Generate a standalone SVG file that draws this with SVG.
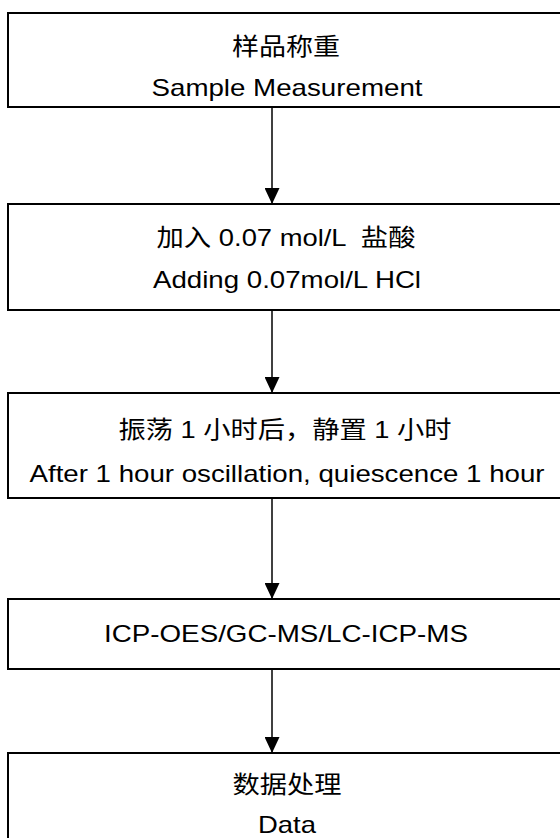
<svg xmlns="http://www.w3.org/2000/svg" width="560" height="838" viewBox="0 0 560 838">
  <defs>
    <style>
      .box { fill: #ffffff; stroke: #000000; stroke-width: 2; }
      .t { font-family: "Liberation Sans", "Noto Sans CJK SC", sans-serif; font-size: 24px; fill: #000000; text-anchor: middle; }
      .conn { stroke: #000000; stroke-width: 1.5; fill: none; marker-end: url(#arrow); }
    </style>
    <marker id="arrow" viewBox="0 0 16 15" refX="16" refY="7.5" markerWidth="16" markerHeight="15" markerUnits="userSpaceOnUse" orient="auto">
      <path d="M0,0 L16,7.5 L0,15 Z" fill="#000000"/>
    </marker>
  </defs>
  <rect width="560" height="838" fill="#ffffff"/>
  <g id="connectors">
    <line class="conn" x1="272" y1="107" x2="272" y2="204"/>
    <line class="conn" x1="272" y1="310" x2="272" y2="393"/>
    <line class="conn" x1="272" y1="498" x2="272" y2="599"/>
    <line class="conn" x1="272" y1="669" x2="272" y2="753"/>
  </g>
  <g id="node1">
    <rect class="box" x="8" y="13" width="570" height="94"/>
    <text class="t" x="286" y="55" textLength="108" lengthAdjust="spacingAndGlyphs">样品称重</text>
    <text class="t" x="287" y="96" textLength="271" lengthAdjust="spacingAndGlyphs">Sample Measurement</text>
  </g>
  <g id="node2">
    <rect class="box" x="8" y="204" width="570" height="106"/>
    <text class="t" x="286" y="246" textLength="259" lengthAdjust="spacingAndGlyphs" xml:space="preserve">加入 0.07 mol/L  盐酸</text>
    <text class="t" x="287" y="288" textLength="268" lengthAdjust="spacingAndGlyphs">Adding 0.07mol/L HCl</text>
  </g>
  <g id="node3">
    <rect class="box" x="8" y="393" width="570" height="105"/>
    <text class="t" x="285" y="438" textLength="333" lengthAdjust="spacingAndGlyphs">振荡 1 小时后，静置 1 小时</text>
    <text class="t" x="287" y="482" textLength="515" lengthAdjust="spacingAndGlyphs">After 1 hour oscillation, quiescence 1 hour</text>
  </g>
  <g id="node4">
    <rect class="box" x="8" y="599" width="570" height="70"/>
    <text class="t" x="286" y="642" textLength="364" lengthAdjust="spacingAndGlyphs">ICP-OES/GC-MS/LC-ICP-MS</text>
  </g>
  <g id="node5">
    <rect class="box" x="8" y="753" width="570" height="120"/>
    <text class="t" x="287" y="793" textLength="109" lengthAdjust="spacingAndGlyphs">数据处理</text>
    <text class="t" x="287" y="833" textLength="58" lengthAdjust="spacingAndGlyphs">Data</text>
  </g>
</svg>
